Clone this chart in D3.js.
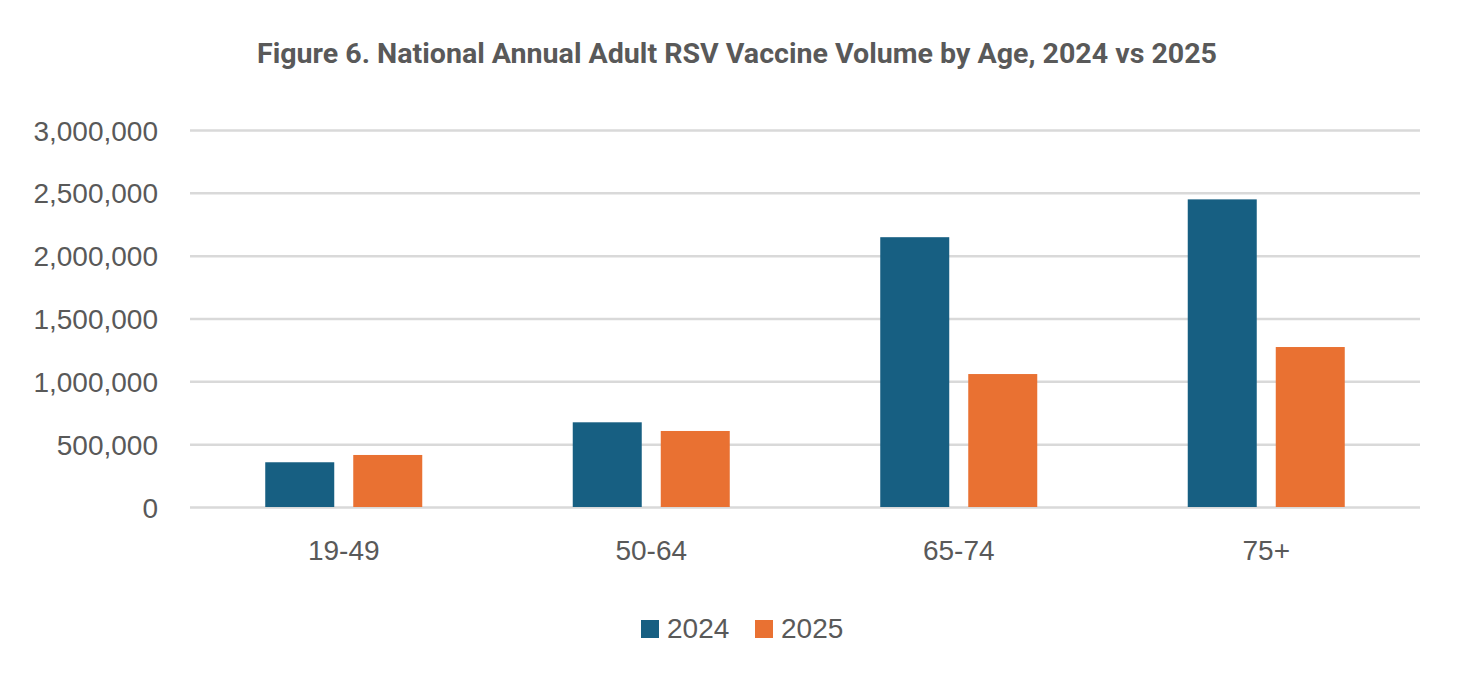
<!DOCTYPE html>
<html><head><meta charset="utf-8">
<script src="https://cdn.jsdelivr.net/npm/d3@7"></script>
<style>body{margin:0;background:#fff}svg{display:block}</style>
</head><body>
<script>
const categories = ["19-49", "50-64", "65-74", "75+"];
const seriesNames = ["2024", "2025"];
const values2024 = [356000, 674000, 2147000, 2448000];
const values2025 = [414000, 605000, 1058000, 1273000];
const yTicks = [0, 500000, 1000000, 1500000, 2000000, 2500000, 3000000];
const titleText = "Figure 6. National Annual Adult RSV Vaccine Volume by Age, 2024 vs 2025";
const colors = ["#175F82", "#E97132"];

const W = 1472, H = 690;
const m = {left: 190, right: 52, top: 130, bottom: 183};
const svg = d3.select("body").append("svg").attr("width", W).attr("height", H);

const x = d3.scaleBand().domain(categories).range([m.left, W - m.right]).paddingInner(0).paddingOuter(0);
const xs = d3.scaleBand().domain(seriesNames).range([0, x.bandwidth()]).paddingInner(0.216).paddingOuter(0.855);
const y = d3.scaleLinear().domain([0, 3000000]).range([H - m.bottom, m.top]);

// gridlines
const yAxis = d3.axisLeft(y).tickValues(yTicks).tickSize(-(W - m.left - m.right)).tickFormat(d3.format(","));
const gy = svg.append("g").attr("transform", `translate(${m.left},0)`).call(yAxis);
gy.select(".domain").remove();
gy.selectAll(".tick line").attr("stroke", "#D9D9D9").attr("stroke-width", 2.5);
gy.selectAll(".tick text").attr("x", -32).attr("dy", "0.36em")
  .attr("fill", "#595959").attr("font-family", "'Liberation Sans', Arial, sans-serif").attr("font-size", 28);

// bars
const data = categories.map((c, i) => ({c, vals: [values2024[i], values2025[i]]}));
const g = svg.append("g").selectAll("g").data(data).join("g").attr("transform", d => `translate(${x(d.c)},0)`);
g.selectAll("rect").data(d => d.vals.map((v, j) => ({s: seriesNames[j], v, j})))
  .join("rect")
  .attr("x", d => xs(d.s)).attr("width", xs.bandwidth())
  .attr("y", d => y(d.v)).attr("height", d => y(0) - y(d.v))
  .attr("fill", d => colors[d.j]);

// x axis labels
const xAxis = d3.axisBottom(x).tickSize(0).tickPadding(0);
const gx = svg.append("g").attr("transform", `translate(0,${y(0)})`).call(xAxis);
gx.select(".domain").remove();
gx.selectAll(".tick text").attr("y", 53).attr("dy", 0)
  .attr("fill", "#595959").attr("font-family", "'Liberation Sans', Arial, sans-serif").attr("font-size", 28);

// title
svg.append("text").attr("x", 737).attr("y", 63).attr("text-anchor", "middle")
  .attr("font-family", "'Liberation Sans Narrow', 'Roboto', 'Liberation Sans', sans-serif")
  .attr("font-weight", "bold").attr("font-size", 27).attr("fill", "#595959")
  .attr("textLength", 960).attr("lengthAdjust", "spacingAndGlyphs")
  .text(titleText);

// legend
const legendX = [641, 755];
const lg = svg.append("g").selectAll("g").data(seriesNames).join("g")
  .attr("transform", (d, i) => `translate(${legendX[i]},620)`);
lg.append("rect").attr("width", 18).attr("height", 18).attr("fill", (d, i) => colors[i]);
lg.append("text").attr("x", 26).attr("y", 18).text(d => d)
  .attr("fill", "#595959").attr("font-family", "'Liberation Sans', Arial, sans-serif").attr("font-size", 28);
</script>
</body></html>
